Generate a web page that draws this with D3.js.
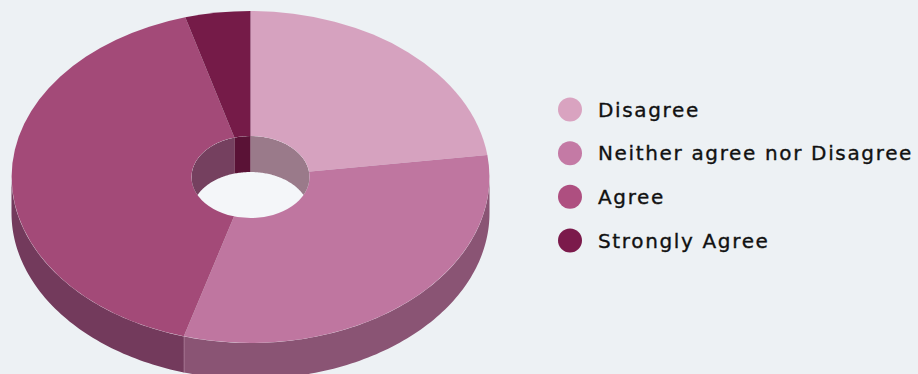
<!DOCTYPE html>
<html><head><meta charset="utf-8">
<script src="https://cdn.jsdelivr.net/npm/d3@7/dist/d3.min.js"></script>
<style>html,body{margin:0;padding:0;background:#edf1f4;overflow:hidden}svg{display:block}</style>
</head><body><svg id="c" width="918" height="374"></svg>
<script>
const categories = ["Disagree","Neither agree nor Disagree","Agree","Strongly Agree"];
const values = [22.9,31.6,41.1,4.4];
const topColors = ["#d6a2bf","#bf76a0","#a34a78","#751b48"];
const outerWallColors = ["#93647f","#8a5474","#733a5c","#55102f"];
const innerWallColors = ["#9a7a8a","#8a5474","#75405f","#5a1236"];
const legendColors = ["#d9a3c0","#c47aa5","#ae4f80","#7b1a4b"];

const W=918,H=374, cx=250.5, cy=177, rx=239, ry=166, irx=59, iry=41, depth=36;
const bg="#edf1f4", holeColor="#f4f6f9";
const svg=d3.select("#c");
svg.append("rect").attr("width",W).attr("height",H).attr("fill",bg);

const pie=d3.pie().sort(null)(values);
const pt=(a,rX,rY,dy=0)=>[cx+rX*Math.sin(a),cy-rY*Math.cos(a)+dy];
const line=d3.line();
function wall(a0,a1,rX,rY){
  const n=Math.max(2,Math.ceil(Math.abs(a1-a0)/0.02));
  const as=d3.range(n+1).map(i=>a0+(a1-a0)*i/n);
  return line(as.map(a=>pt(a,rX,rY)).concat(as.slice().reverse().map(a=>pt(a,rX,rY,depth))))+"Z";
}
// outer walls (front half)
pie.forEach((s,i)=>{
  const a0=Math.max(s.startAngle,Math.PI/2), a1=Math.min(s.endAngle,3*Math.PI/2);
  if(a1<=a0) return;
  svg.append("path").attr("d",wall(a0,a1,rx,ry)).attr("fill",outerWallColors[i]);
  if(s.endAngle<3*Math.PI/2){
    const p=pt(a1,rx,ry);
    svg.append("path").attr("d",line([p,[p[0],p[1]+depth]])).attr("stroke","#c49ab3").attr("stroke-width",1).attr("fill","none");
  }
});
// top surfaces
const arc=d3.arc().innerRadius(0).outerRadius(1);
const topG=svg.append("g").attr("transform",`translate(${cx},${cy}) scale(${rx},${ry})`);
topG.selectAll("path").data(pie).join("path").attr("d",arc).attr("fill",(d,i)=>topColors[i]);
// hole
const defs=svg.append("defs");
defs.append("clipPath").attr("id","hole").append("ellipse").attr("cx",cx).attr("cy",cy).attr("rx",irx).attr("ry",iry);
svg.append("ellipse").attr("cx",cx).attr("cy",cy).attr("rx",irx).attr("ry",iry).attr("fill",holeColor);
const holeG=svg.append("g").attr("clip-path","url(#hole)");
pie.forEach((s,i)=>{
  [[s.startAngle,Math.min(s.endAngle,Math.PI/2)],[Math.max(s.startAngle,3*Math.PI/2),s.endAngle]].forEach(([a0,a1])=>{
    if(a1<=a0) return;
    holeG.append("path").attr("d",wall(a0,a1,irx,iry)).attr("fill",innerWallColors[i]);
  });
});
// legend
const yLegend=d3.scalePoint().domain(categories).range([109.5,240.5]);
const lg=svg.append("g");
lg.selectAll("circle").data(categories).join("circle")
  .attr("cx",570).attr("cy",d=>yLegend(d)).attr("r",12).attr("fill",(d,i)=>legendColors[i]);
lg.selectAll("text").data(categories).join("text")
  .attr("x",598).attr("y",d=>yLegend(d)+7)
  .attr("font-family","'Comic Sans MS','DejaVu Sans',sans-serif").attr("font-size",20)
  .attr("letter-spacing",1.65).attr("fill","#111").attr("stroke","#111").attr("stroke-width",0.35)
  .text(d=>d);
</script></body></html>
